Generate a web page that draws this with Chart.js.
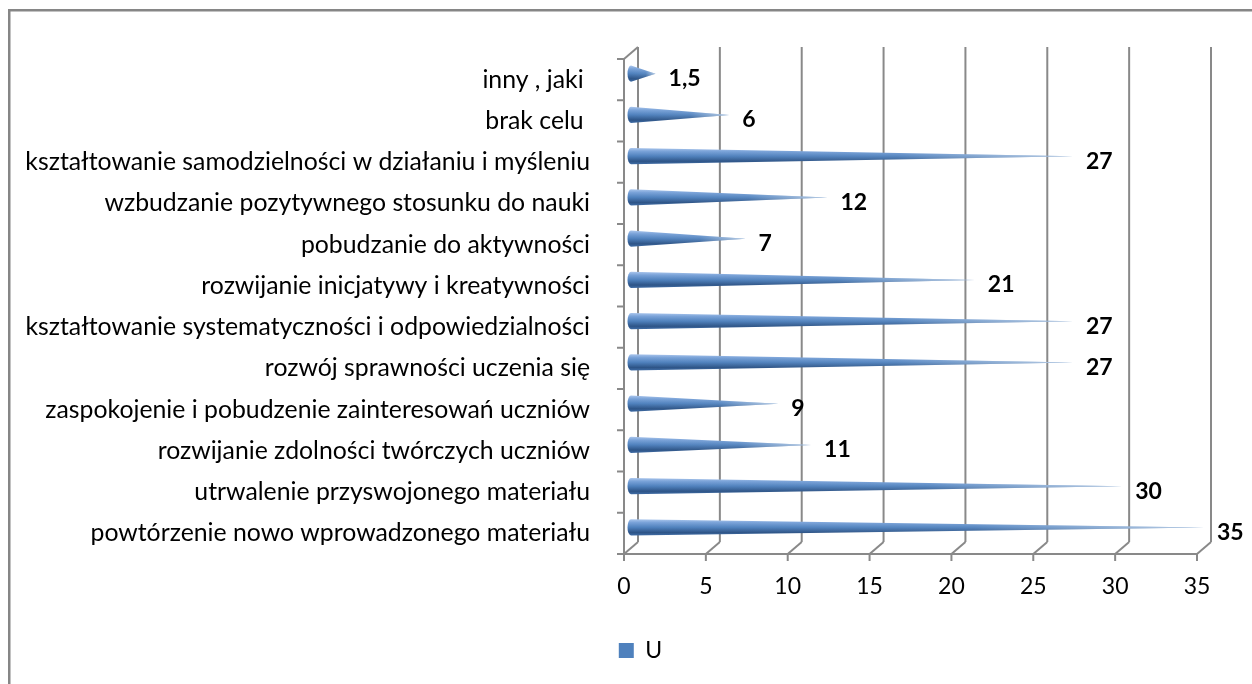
<!DOCTYPE html>
<html><head><meta charset="utf-8">
<script src="https://cdn.jsdelivr.net/npm/chart.js@4.4.1/dist/chart.umd.min.js"></script>
<style>html,body{margin:0;padding:0;background:#fff;}</style>
</head><body>
<canvas id="c" width="1252" height="684"></canvas>
<script>
const categories = [
  "inny , jaki ",
  "brak celu ",
  "kształtowanie samodzielności w działaniu i myśleniu",
  "wzbudzanie pozytywnego stosunku do nauki",
  "pobudzanie do aktywności",
  "rozwijanie inicjatywy i kreatywności",
  "kształtowanie systematyczności i odpowiedzialności",
  "rozwój sprawności uczenia się",
  "zaspokojenie i pobudzenie zainteresowań uczniów",
  "rozwijanie zdolności twórczych uczniów",
  "utrwalenie przyswojonego materiału",
  "powtórzenie nowo wprowadzonego materiału"
];
const seriesName = "U";
const seriesValues = [1.5, 6, 27, 12, 7, 21, 27, 27, 9, 11, 30, 35];
const xTicks = [0, 5, 10, 15, 20, 25, 30, 35];

const FONT = "Lato";
const DX = 14, DY = -12;
const GRID = "#898989";

function line(ctx, x1, y1, x2, y2) {
  ctx.beginPath(); ctx.moveTo(x1, y1); ctx.lineTo(x2, y2); ctx.stroke();
}

const framePlugin = {
  id: "frame3d",
  beforeDraw(chart) {
    const ctx = chart.ctx;
    ctx.save();
    ctx.fillStyle = "#fff";
    ctx.fillRect(0, 0, chart.width, chart.height);
    ctx.strokeStyle = "#868686";
    ctx.lineWidth = 2.5;
    ctx.strokeRect(9.25, 10.25, 1400, 900);
    ctx.restore();
  },
  afterLayout(chart) {
    const lg = chart.legend;
    if (lg) { lg.left += 42; lg.right += 42; lg.top -= 2; lg.bottom -= 2; }
  },
  beforeDatasetsDraw(chart) {
    const ctx = chart.ctx;
    const xs = chart.scales.x;
    const { top, bottom, left } = chart.chartArea;
    ctx.save();
    ctx.strokeStyle = GRID;
    ctx.lineWidth = 2;
    xTicks.forEach(v => {
      const x = xs.getPixelForValue(v);
      line(ctx, x + DX, top + DY, x + DX, bottom + DY);
      line(ctx, x, bottom, x + DX, bottom + DY);
      line(ctx, x, bottom, x, bottom + 7);
    });
    line(ctx, left, bottom, xs.getPixelForValue(xTicks[xTicks.length - 1]), bottom);
    line(ctx, left, top, left, bottom);
    line(ctx, left, top, left + DX, top + DY);
    const n = categories.length;
    for (let i = 0; i <= n; i++) {
      const y = top + i * (bottom - top) / n;
      line(ctx, left - 7, y, left, y);
    }
    ctx.restore();
  },
  beforeDatasetDraw(chart, args) {
    const ctx = chart.ctx;
    const meta = args.meta;
    ctx.save();
    meta.data.forEach(bar => {
      const r = bar.height / 2;
      const cy = bar.y + DY / 2;
      const xb = bar.base + DX / 2;
      const xt = bar.x + DX / 2;
      const rx = 3.5;
      ctx.beginPath();
      ctx.moveTo(xt, cy);
      ctx.lineTo(xb, cy - r);
      ctx.ellipse(xb, cy, rx, r, 0, -Math.PI / 2, Math.PI / 2, true);
      ctx.closePath();
      const g = ctx.createLinearGradient(0, cy - r, 0, cy + r);
      g.addColorStop(0, "#a9c5ec");
      g.addColorStop(0.2, "#79a2d8");
      g.addColorStop(0.5, "#4f81bd");
      g.addColorStop(0.82, "#2d5487");
      g.addColorStop(1, "#3f6ca5");
      ctx.fillStyle = g;
      ctx.fill();
      const h = ctx.createLinearGradient(xb, 0, xt, 0);
      h.addColorStop(0, "rgba(255,255,255,0)");
      h.addColorStop(0.6, "rgba(255,255,255,0.05)");
      h.addColorStop(1, "rgba(255,255,255,0.6)");
      ctx.fillStyle = h;
      ctx.fill();
    });
    ctx.restore();
    return false;
  },
  afterDatasetsDraw(chart) {
    const ctx = chart.ctx;
    const meta = chart.getDatasetMeta(0);
    const ds = chart.data.datasets[0];
    ctx.save();
    ctx.font = "bold 23px " + FONT;
    ctx.fillStyle = "#000";
    ctx.textAlign = "left";
    ctx.textBaseline = "middle";
    meta.data.forEach((bar, i) => {
      const txt = String(ds.data[i]).replace(".", ",");
      ctx.fillText(txt, bar.x + 20, bar.y - 1);
    });
    ctx.restore();
  }
};

new Chart(document.getElementById("c"), {
  type: "bar",
  data: {
    labels: categories,
    datasets: [{
      label: seriesName,
      data: seriesValues,
      backgroundColor: "#4f81bd",
      borderWidth: 0,
      categoryPercentage: 1,
      barPercentage: 0.39
    }]
  },
  options: {
    indexAxis: "y",
    responsive: false,
    animation: false,
    devicePixelRatio: 1,
    layout: { padding: { left: 0, right: 55, top: 59, bottom: 10 } },
    scales: {
      x: {
        min: 0, max: 35,
        afterBuildTicks(s) { s.ticks = xTicks.map(v => ({ value: v })); },
        ticks: { font: { family: FONT, size: 23 }, color: "#000", padding: 11 },
        grid: { display: false },
        border: { display: false },
        afterFit(s) { s.height = 77; }
      },
      y: {
        ticks: { font: { family: FONT, size: 24.8 }, color: "#000", padding: 26 },
        grid: { display: false },
        border: { display: false },
        afterFit(s) { s.width = 624; }
      }
    },
    plugins: {
      legend: {
        position: "bottom",
        labels: { font: { family: FONT, size: 23 }, color: "#000", boxWidth: 15, boxHeight: 15, padding: 10 }
      },
      tooltip: { enabled: false }
    }
  },
  plugins: [framePlugin]
});
</script>
</body></html>
